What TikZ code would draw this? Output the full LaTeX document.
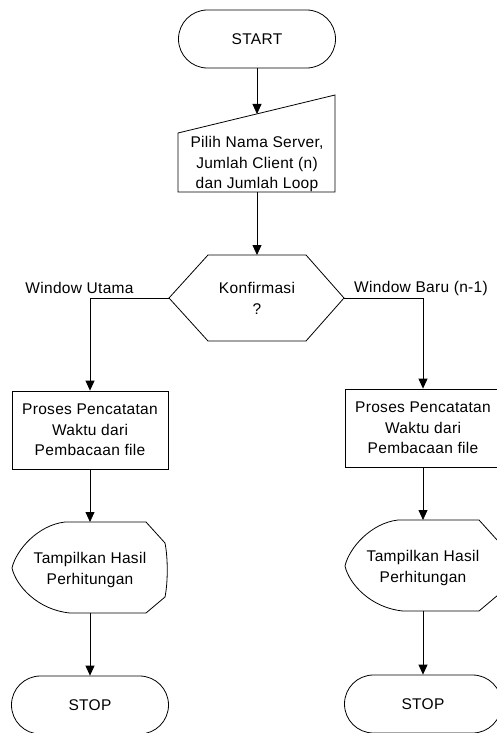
\documentclass[tikz,border=0pt]{standalone}
\usepackage{fontspec}
\setmainfont{Liberation Sans}[LetterSpace=2]
\usetikzlibrary{arrows.meta}
\newcommand\dispshape{(-25,0) -- (56,0) -- (75,21) .. controls (78,36) and (78,60) .. (75,75) -- (56,91) -- (-20,91) .. controls (-52,88) and (-74,64) .. (-78,46) .. controls (-74,28) and (-52,3) .. (-25,0) -- cycle}
\begin{document}
\begin{tikzpicture}[x=1pt,y=-1pt,
  line width=0.8pt,
  every node/.style={font=\fontsize{15.5}{20.5}\selectfont, align=center, inner sep=0pt},
  term/.style={draw, rounded corners=28.9pt, minimum width=157pt, minimum height=58pt},
  proc/.style={draw, minimum width=156pt, minimum height=78pt},
  arr/.style={-{Triangle[length=10pt,width=9pt]}}
]
\useasboundingbox (0,0) rectangle (497,733);

% START
\node[term] (start) at (257,39) {START};

% manual input
\draw (178,133) -- (335,95) -- (335,192) -- (178,192) -- cycle;
\node (inp) at (257,164) {Pilih Nama Server,\\Jumlah Client (n)\\dan Jumlah Loop};
\coordinate (inpT) at (257,114);
\coordinate (inpB) at (257,192);
\draw[arr] (start.south) -- (inpT);

% decision
\coordinate (kT) at (257,255);
\coordinate (kL) at (169,298);
\coordinate (kR) at (344,298);
\draw (208,255) -- (306,255) -- (kR) -- (306,341) -- (208,341) -- (kL) -- cycle;
\node (konf) at (257,298.5) {Konfirmasi\\?};
\draw[arr] (inpB) -- (kT);

% branch labels
\node (lu) at (79.5,288) {Window Utama};
\node (lb) at (421,288) {Window Baru (n-1)};

% process boxes
\node[proc] (p1) at (90,430) {Proses Pencatatan\\Waktu dari\\Pembacaan file};
\node[proc] (p2) at (423,428) {Proses Pencatatan\\Waktu dari\\Pembacaan file};
\draw[arr] (kL) -| (p1.north);
\draw[arr] (kR) -| (p2.north);

% display shapes
\begin{scope}[shift={(90,522)}]
  \draw \dispshape;
\end{scope}
\begin{scope}[shift={(423,520)}]
  \draw \dispshape;
\end{scope}
\node (d1) at (90,570) {Tampilkan Hasil\\Perhitungan};
\node (d2) at (423,568) {Tampilkan Hasil\\Perhitungan};
\coordinate (d1T) at (90,522);
\coordinate (d1B) at (90,613);
\coordinate (d2T) at (423,520);
\coordinate (d2B) at (423,611);
\draw[arr] (p1.south) -- (d1T);
\draw[arr] (p2.south) -- (d2T);

% STOP
\node[term] (s1) at (90,705) {STOP};
\node[term] (s2) at (423,704) {STOP};
\draw[arr] (d1B) -- (s1.north);
\draw[arr] (d2B) -- (s2.north);
\end{tikzpicture}
\end{document}
